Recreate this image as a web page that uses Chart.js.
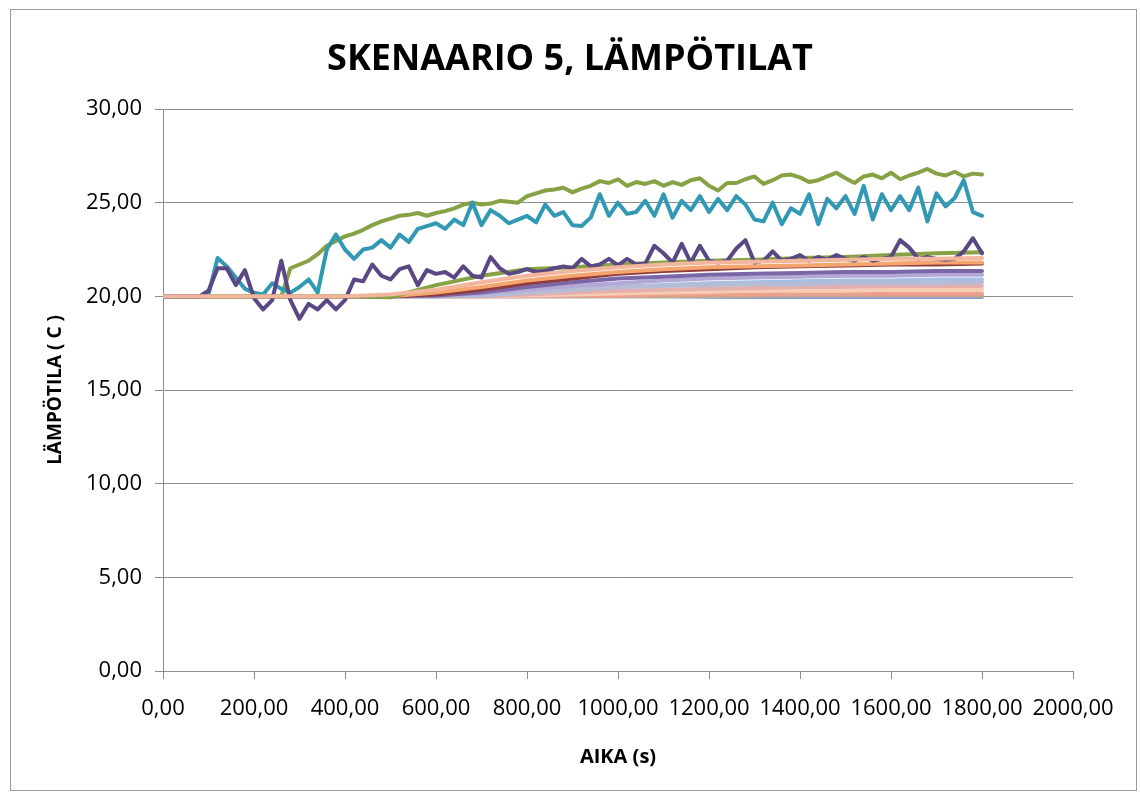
<!DOCTYPE html>
<html>
<head>
<meta charset="utf-8">
<script src="https://cdn.jsdelivr.net/npm/chart.js@4.4.1/dist/chart.umd.min.js"></script>
<style>
  html, body { margin: 0; padding: 0; background: #fff; }
  #wrap { position: relative; width: 1140px; height: 794px; }
</style>
</head>
<body>
<div id="wrap"><canvas id="chart"></canvas></div>
<script>
// Skenaario 5 - lämpötilat

const chartTitle = 'SKENAARIO 5, LÄMPÖTILAT';
const xTitle = 'AIKA (s)';
const yTitle = 'LÄMPÖTILA ( C )';

// time axis for the detailed (noisy) sensors, every 20 s
const timeFine = [
    0, 20, 40, 60, 80, 100, 120, 140, 160, 180,
    200, 220, 240, 260, 280, 300, 320, 340, 360, 380,
    400, 420, 440, 460, 480, 500, 520, 540, 560, 580,
    600, 620, 640, 660, 680, 700, 720, 740, 760, 780,
    800, 820, 840, 860, 880, 900, 920, 940, 960, 980,
    1000, 1020, 1040, 1060, 1080, 1100, 1120, 1140, 1160, 1180,
    1200, 1220, 1240, 1260, 1280, 1300, 1320, 1340, 1360, 1380,
    1400, 1420, 1440, 1460, 1480, 1500, 1520, 1540, 1560, 1580,
    1600, 1620, 1640, 1660, 1680, 1700, 1720, 1740, 1760, 1780,
    1800
];

// time axis for the slow sensors, every 100 s
const timeCoarse = [0, 100, 200, 300, 400, 500, 600, 700, 800, 900, 1000, 1100, 1200, 1300, 1400, 1500, 1600, 1700, 1800];

const greenTop = [
    20, 20, 20, 20, 20, 20, 20, 20, 20, 20,
    20, 20, 20, 20, 21.5, 21.7, 21.9, 22.25, 22.7, 22.95,
    23.2, 23.35, 23.55, 23.8, 24.0, 24.15, 24.3, 24.35, 24.45, 24.3,
    24.45, 24.55, 24.7, 24.9, 25.0, 24.9, 24.95, 25.1, 25.05, 25.0,
    25.35, 25.5, 25.65, 25.7, 25.8, 25.55, 25.75, 25.9, 26.15, 26.05,
    26.25, 25.9, 26.1, 26.0, 26.15, 25.9, 26.1, 25.95, 26.2, 26.3,
    25.9, 25.65, 26.05, 26.05, 26.25, 26.4, 26.0, 26.2, 26.45, 26.5,
    26.35, 26.1, 26.2, 26.4, 26.6, 26.3, 26.05, 26.4, 26.5, 26.3,
    26.6, 26.25, 26.45, 26.6, 26.8, 26.55, 26.45, 26.65, 26.4, 26.55,
    26.5
];

const teal = [
    20, 20, 20, 20, 20, 20.1, 22.05, 21.6, 21.0, 20.4,
    20.2, 20.1, 20.7, 20.4, 20.2, 20.5, 20.9, 20.2, 22.5, 23.3,
    22.5, 22.0, 22.5, 22.6, 23.0, 22.6, 23.3, 22.9, 23.6, 23.75,
    23.9, 23.6, 24.1, 23.8, 25.0, 23.8, 24.6, 24.3, 23.9, 24.1,
    24.3, 23.95, 24.9, 24.3, 24.5, 23.8, 23.75, 24.2, 25.45, 24.3,
    25.0, 24.4, 24.5, 25.1, 24.3, 25.45, 24.2, 25.1, 24.6, 25.35,
    24.5, 25.2, 24.6, 25.35, 24.9, 24.1, 24.0, 25.0, 23.85, 24.7,
    24.4, 25.45, 23.85, 25.2, 24.7, 25.35, 24.4, 25.9, 24.1, 25.45,
    24.6, 25.35, 24.6, 25.8, 24.0, 25.5, 24.8, 25.25, 26.2, 24.5,
    24.3
];

const purple = [
    20, 20, 20, 20, 20, 20.3, 21.5, 21.5, 20.6, 21.4,
    19.9, 19.3, 19.8, 21.9, 19.8, 18.8, 19.6, 19.3, 19.8, 19.3,
    19.8, 20.9, 20.8, 21.7, 21.1, 20.9, 21.45, 21.6, 20.6, 21.4,
    21.2, 21.3, 21.0, 21.6, 21.1, 21.0, 22.1, 21.5, 21.2, 21.3,
    21.45, 21.3, 21.35, 21.5, 21.6, 21.5, 22.0, 21.6, 21.7, 22.0,
    21.65, 22.0, 21.7, 21.75, 22.7, 22.3, 21.8, 22.8, 21.8, 22.7,
    21.9, 21.8, 21.9, 22.55, 23.0, 21.8, 21.9, 22.4, 21.9, 22.0,
    22.2, 21.9, 22.1, 21.95, 22.2, 22.0, 21.9, 22.1, 21.9, 22.0,
    22.1, 23.0, 22.6, 22.0, 22.1, 22.0, 21.95, 22.0, 22.4, 23.1,
    22.3
];

// slow sensors on the coarse time axis
const greenLow   = [20, 20, 20, 20, 20, 19.95, 20.6, 21.1, 21.45, 21.55, 21.7, 21.8, 21.9, 21.95, 22.05, 22.1, 22.2, 22.3, 22.35];
const peach      = [20, 20, 20, 20, 20, 20.1, 20.35, 20.75, 21.1, 21.35, 21.55, 21.7, 21.8, 21.85, 21.9, 21.95, 22.0, 22.0, 22.05];
const orange     = [20, 20, 20, 20, 20, 20, 20.2, 20.5, 20.85, 21.1, 21.3, 21.45, 21.55, 21.6, 21.65, 21.7, 21.75, 21.8, 21.8];
const darkRed    = [20, 20, 20, 20, 20, 20, 20.1, 20.35, 20.7, 20.95, 21.2, 21.35, 21.45, 21.55, 21.6, 21.65, 21.7, 21.7, 21.75];
const midPurple  = [20, 20, 20, 20, 20, 20, 20.05, 20.2, 20.5, 20.75, 20.95, 21.05, 21.15, 21.2, 21.25, 21.3, 21.3, 21.35, 21.35];
const lavender   = [20, 20, 20, 20, 20, 20, 20, 20.15, 20.35, 20.55, 20.7, 20.85, 20.95, 21.0, 21.05, 21.1, 21.1, 21.15, 21.15];
const greyBlue   = [20, 20, 20, 20, 20, 20, 20, 20.1, 20.25, 20.4, 20.5, 20.55, 20.6, 20.65, 20.65, 20.7, 20.7, 20.7, 20.75];
const lightBlue  = [20, 20, 20, 20, 20, 20, 20, 20.05, 20.2, 20.35, 20.5, 20.6, 20.7, 20.75, 20.8, 20.85, 20.85, 20.9, 20.9];
const pink       = [20, 20, 20, 20, 20, 20, 20, 20, 20.1, 20.2, 20.3, 20.35, 20.4, 20.45, 20.5, 20.5, 20.55, 20.55, 20.55];
const lightPeach = [20, 20, 20, 20, 20, 20, 20, 20, 20.05, 20.1, 20.15, 20.2, 20.25, 20.3, 20.3, 20.3, 20.35, 20.35, 20.35];
const salmon     = [20, 20, 20, 20, 20, 20, 20, 20, 20, 20.05, 20.05, 20.1, 20.1, 20.1, 20.15, 20.15, 20.15, 20.15, 20.15];
const tan        = [20, 20, 20, 20, 20, 20, 20, 20, 20, 20, 20, 20, 20.02, 20.03, 20.04, 20.05, 20.05, 20.05, 20.05];
const blue       = [20, 20, 20, 20, 20, 20, 20, 20, 20, 20, 20, 20, 19.98, 19.97, 19.97, 19.96, 19.96, 19.96, 19.96];

const xTicks = { min: 0, max: 2000, step: 200 };
const yTicks = { min: 0, max: 30, step: 5 };

// bottom of the list is drawn last (on top), like the spreadsheet did
const seriesList = [
    { name: 'S1',  times: timeCoarse, values: blue,       color: '#7f9fd6' },
    { name: 'S2',  times: timeCoarse, values: tan,        color: '#c7a58f' },
    { name: 'S3',  times: timeCoarse, values: salmon,     color: '#eda08c' },
    { name: 'S4',  times: timeCoarse, values: lightPeach, color: '#f6cdb3' },
    { name: 'S5',  times: timeCoarse, values: pink,       color: '#e3b0ae' },
    { name: 'S6',  times: timeCoarse, values: lightBlue,  color: '#a7c0e2' },
    { name: 'S7',  times: timeCoarse, values: greyBlue,   color: '#b6bcd5' },
    { name: 'S8',  times: timeCoarse, values: lavender,   color: '#b4a9d6' },
    { name: 'S9',  times: timeCoarse, values: midPurple,  color: '#7b67a8' },
    { name: 'S10', times: timeCoarse, values: darkRed,    color: '#8f3c3a' },
    { name: 'S11', times: timeCoarse, values: orange,     color: '#f5a66e' },
    { name: 'S12', times: timeCoarse, values: greenLow,   color: '#86a244' },
    { name: 'S13', times: timeFine,   values: greenTop,   color: '#86a244' },
    { name: 'S14', times: timeFine,   values: teal,       color: '#3199b3' },
    { name: 'S15', times: timeFine,   values: purple,     color: '#5b4784' },
    { name: 'S16', times: timeCoarse, values: peach,      color: '#f2b69c' }
];

function toPoints(times, values) {
    return values.map(function(v, i) { return { x: times[i], y: v }; });
}

function fmt(v) {
    return v.toFixed(2).replace('.', ',');
}

const datasets = seriesList.map(function(s, i) {
    return {
        label: s.name,
        data: toPoints(s.times, s.values),
        borderColor: s.color,
        backgroundColor: s.color,
        borderWidth: 4,
        borderJoinStyle: 'round',
        borderCapStyle: 'round',
        pointRadius: 0,
        tension: 0,
        fill: false,
        order: seriesList.length - i
    };
});

// white page, outer frame and the big title
const framePlugin = {
    id: 'frame',
    beforeDraw(chart) {
        const ctx = chart.ctx;
        ctx.save();
        ctx.fillStyle = '#ffffff';
        ctx.fillRect(0, 0, chart.width, chart.height);
        ctx.restore();
    },
    afterDraw(chart) {
        const ctx = chart.ctx;
        ctx.save();
        ctx.strokeStyle = '#9a9a9a';
        ctx.lineWidth = 1;
        ctx.strokeRect(10.5, 9.5, 1126, 781);
        ctx.fillStyle = '#000';
        ctx.font = 'bold 36px "Open Sans"';
        ctx.textAlign = 'center';
        ctx.textBaseline = 'middle';
        ctx.fillText(chartTitle, 570, 60);
        ctx.restore();
    }
};

const tickFont = { family: 'Open Sans', size: 22 };
const titleFont = { family: 'Open Sans', size: 19, weight: 'bold' };
const lineColor = '#8c8c8c';

new Chart(document.getElementById('chart'), {
    type: 'line',
    data: { datasets: datasets },
    plugins: [framePlugin],
    options: {
        responsive: true,
        maintainAspectRatio: false,
        animation: false,
        layout: { padding: { left: 30, right: 67, top: 109, bottom: 16 } },
        plugins: {
            legend: { display: false },
            title: { display: false },
            tooltip: { enabled: false }
        },
        scales: {
            x: {
                type: 'linear',
                min: xTicks.min,
                max: xTicks.max,
                afterFit: function(scale) { scale.height = 107; },
                ticks: {
                    stepSize: xTicks.step,
                    color: '#000',
                    font: tickFont,
                    padding: 17,
                    maxRotation: 0,
                    autoSkip: false,
                    callback: function(v) { return fmt(v); }
                },
                grid: {
                    drawOnChartArea: false,
                    drawTicks: true,
                    tickLength: 8,
                    color: lineColor
                },
                border: { display: true, color: lineColor, width: 1 },
                title: {
                    display: true,
                    text: xTitle,
                    color: '#000',
                    font: { family: 'Open Sans', size: 20, weight: 'bold' },
                    padding: { top: 0, bottom: 9 }
                }
            },
            y: {
                min: yTicks.min,
                max: yTicks.max,
                afterFit: function(scale) { scale.width = 133; },
                ticks: {
                    stepSize: yTicks.step,
                    color: '#000',
                    font: tickFont,
                    padding: 13,
                    callback: function(v) { return fmt(v); }
                },
                grid: {
                    drawTicks: true,
                    tickLength: 8,
                    color: lineColor,
                    lineWidth: 1
                },
                border: { display: true, color: lineColor, width: 1 },
                title: {
                    display: true,
                    text: yTitle,
                    color: '#000',
                    font: titleFont,
                    padding: { top: 14, bottom: 0 }
                }
            }
        }
    }
});
</script>
</body>
</html>
